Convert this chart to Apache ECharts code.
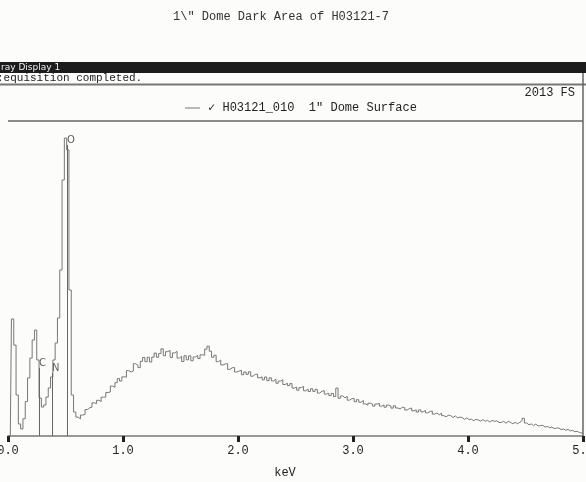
<!DOCTYPE html>
<html>
<head>
<meta charset="utf-8">
<script src="https://cdn.jsdelivr.net/npm/echarts@6/dist/echarts.min.js"></script>
<style>
  html, body { margin: 0; padding: 0; background: #fcfcfa; }
  #chart { width: 586px; height: 482px; }
</style>
</head>
<body>
<div id="chart"></div>
<script>
// channel width of the spectrum, keV
const channelWidth = 0.02;

// counts per channel, 0.00 .. 0.62 keV (peaks)
const lowCounts = [
  0, 0, 748, 581, 262, 77, 45, 110, 220, 371,
  498, 613, 677, 486, 243, 185, 198, 249, 307, 377,
  486, 594, 754, 1061, 1636, 1904, 1828, 933, 262, 153,
  121, 109
];
// counts per channel, 0.64 .. 5.00 keV (bremsstrahlung)
const bgCounts = [
  134, 138, 169, 180, 184, 212, 207, 228, 221, 248,
  249, 278, 281, 319, 311, 341, 367, 351, 378, 376,
  418, 409, 415, 462, 452, 437, 477, 502, 475, 503,
  473, 504, 530, 503, 527, 557, 513, 539, 547, 502,
  531, 541, 498, 510, 476, 513, 487, 512, 481, 505,
  515, 495, 519, 516, 555, 574, 542, 503, 516, 475,
  485, 454, 461, 462, 426, 436, 438, 409, 415, 420,
  392, 409, 394, 410, 382, 394, 395, 372, 378, 359,
  377, 354, 372, 352, 363, 337, 351, 359, 329, 337,
  322, 335, 306, 313, 293, 309, 317, 289, 300, 284,
  302, 285, 298, 274, 286, 290, 268, 273, 258, 272,
  252, 306, 241, 256, 244, 253, 229, 239, 240, 219,
  232, 216, 227, 205, 197, 210, 204, 191, 204, 208,
  191, 199, 184, 198, 191, 178, 193, 179, 173, 184,
  181, 166, 175, 179, 161, 167, 153, 167, 154, 164,
  148, 157, 159, 140, 147, 135, 146, 130, 123, 133,
  130, 118, 128, 116, 121, 117, 106, 116, 104, 108,
  97, 107, 102, 95, 105, 94, 100, 89, 99, 94,
  97, 86, 87, 93, 82, 93, 87, 78, 87, 79,
  87, 98, 113, 83, 72, 77, 67, 76, 64, 67,
  68, 57, 61, 53, 57, 47, 51, 51, 41, 45,
  37, 42, 33, 36, 27, 30, 22, 19, 14
];
const counts = lowCounts.concat(bgCounts);

// element markers
const markerNames = ['C', 'N', 'O'];
const markerEnergy = [0.27, 0.383, 0.513];
const markerTop = [435, 403, 1860];

const fullScale = 2013;
const seriesName = '✓ H03121_010  1" Dome Surface';

const spectrum = counts.map((c, i) => [i * channelWidth, c]);

const mono = '"Liberation Mono", "DejaVu Sans Mono", monospace';
const chart = echarts.init(document.getElementById('chart'));

const option = {
  backgroundColor: '#fcfcfa',
  animation: false,
  grid: { left: 8, right: 3, top: 121, bottom: 46, containLabel: false, outerBoundsMode: 'none' },
  legend: {
    left: 180,
    top: 97,
    itemWidth: 15,
    itemHeight: 10,
    itemGap: 5,
    textStyle: { fontFamily: mono, fontSize: 12, color: '#222', padding: [0, 0, 0, 3] },
    data: [{ name: seriesName, icon: 'path://M0,5L15,5L15,6L0,6Z' }]
  },
  xAxis: {
    type: 'value',
    min: 0,
    max: 5,
    interval: 1,
    axisLine: { lineStyle: { color: '#777', width: 1.5 } },
    axisTick: { length: 6, lineStyle: { color: '#222', width: 3 } },
    axisLabel: {
      fontFamily: mono, fontSize: 12, color: '#222', margin: 9,
      formatter: v => v.toFixed(1)
    },
    splitLine: { show: false }
  },
  yAxis: {
    type: 'value',
    min: 0,
    max: fullScale,
    show: false
  },
  series: [
    {
      name: seriesName,
      type: 'line',
      step: 'middle',
      data: spectrum,
      showSymbol: false,
      lineStyle: { color: '#777', width: 1 },
      itemStyle: { color: '#777' },
      markLine: {
        silent: true,
        symbol: 'none',
        label: { show: false },
        lineStyle: { color: '#666', width: 1, type: 'solid' },
        data: markerEnergy.map((e, i) => [{ coord: [e, 0] }, { coord: [e, markerTop[i]] }])
      }
    },
    {
      type: 'scatter',
      data: markerEnergy.map((e, i) => [e, markerTop[i]]),
      symbolSize: 0,
      silent: true,
      label: {
        show: true,
        position: 'right',
        distance: 0,
        offset: [0, -5],
        fontFamily: '"DejaVu Sans", sans-serif',
        fontSize: 10,
        color: '#333',
        formatter: p => markerNames[p.dataIndex]
      }
    }
  ],
  graphic: [
    {
      type: 'text', x: 281, y: 17,
      style: {
        text: '1\\" Dome Dark Area of H03121-7', font: '12px ' + mono, fill: '#333',
        align: 'center', verticalAlign: 'middle'
      }
    },
    { type: 'rect', shape: { x: 0, y: 62, width: 586, height: 11 }, style: { fill: '#1c1c1c' } },
    {
      type: 'text', x: 1, y: 63,
      style: { text: 'ray Display 1', font: '9px "DejaVu Sans", sans-serif', fill: '#f0f0f0' }
    },
    {
      type: 'text', x: -3, y: 78.5,
      style: { text: ':equisition completed.', font: '11px ' + mono, fill: '#222', verticalAlign: 'middle' }
    },
    { type: 'line', shape: { x1: 0, y1: 84.5, x2: 586, y2: 84.5 }, style: { stroke: '#777', lineWidth: 2 } },
    { type: 'line', shape: { x1: 583, y1: 73, x2: 583, y2: 436 }, style: { stroke: '#666', lineWidth: 1.5 } },
    {
      type: 'text', x: 575, y: 93,
      style: { text: '2013 FS', font: '12px ' + mono, fill: '#222', align: 'right', verticalAlign: 'middle' }
    },
    { type: 'line', shape: { x1: 8, y1: 121, x2: 583, y2: 121 }, style: { stroke: '#666', lineWidth: 1.5 } },
    {
      type: 'text', x: 285, y: 473,
      style: { text: 'keV', font: '12px ' + mono, fill: '#222', align: 'center', verticalAlign: 'middle' }
    }
  ]
};

chart.setOption(option);
</script>
</body>
</html>
